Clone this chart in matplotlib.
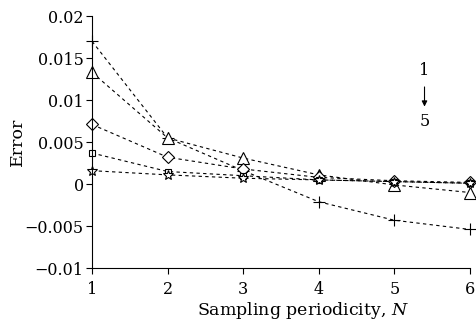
import matplotlib
matplotlib.use("Agg")
import matplotlib.pyplot as plt

plt.rcParams['font.family'] = ['DejaVu Serif']
plt.rcParams['mathtext.fontset'] = 'dejavuserif'

N = [1, 2, 3, 4, 5, 6]
err1 = [0.0170, 0.0055, 0.0016, -0.0021, -0.0043, -0.0054]
err2 = [0.0133, 0.0055, 0.0031, 0.0011, -0.0001, -0.0010]
err3 = [0.0071, 0.0032, 0.0018, 0.0008, 0.0004, 0.0002]
err4 = [0.0037, 0.0015, 0.0010, 0.0005, 0.0003, 0.0001]
err5 = [0.0016, 0.0011, 0.0007, 0.0005, 0.0003, 0.0001]
series = [err1, err2, err3, err4, err5]
markers = ['+', '^', 'D', 's', '*']
msizes = [9, 9, 6, 5, 7]
yticks = [-0.01, -0.005, 0, 0.005, 0.01, 0.015, 0.02]
yticklabels = ['\u22120.01', '\u22120.005', '0', '0.005', '0.01', '0.015', '0.02']

fig = plt.figure(figsize=(4.77, 3.23), dpi=100)
ax = fig.add_axes([0.193, 0.170, 0.792, 0.780])

for vals, m, ms in zip(series, markers, msizes):
    ax.plot(N, vals, linestyle=(0, (3, 3)), color='black', linewidth=0.8,
            marker=m, markersize=ms, markerfacecolor='white',
            markeredgecolor='black', markeredgewidth=0.8, clip_on=False)

ax.set_xlim(1, 6)
ax.set_ylim(-0.01, 0.02)
ax.set_xticks(N)
ax.set_yticks(yticks)
ax.set_yticklabels(yticklabels)
ax.spines['top'].set_visible(False)
ax.spines['right'].set_visible(False)
ax.tick_params(direction='out', length=4, width=0.8, labelsize=11.5)
ax.tick_params(axis='x', pad=5)
ax.tick_params(axis='y', pad=2)
ax.set_xlabel('Sampling periodicity, $N$', fontsize=12.5)
ax.xaxis.set_label_coords(0.558, -0.125)
ax.set_ylabel('Error', fontsize=12.5, labelpad=-1)

ax.annotate('', xy=(0.88, 0.63), xytext=(0.88, 0.73), xycoords='axes fraction',
            arrowprops=dict(arrowstyle='-|>', color='black', lw=0.8, mutation_scale=8))
ax.text(0.88, 0.75, '1', transform=ax.transAxes, ha='center', va='bottom', fontsize=11.5)
ax.text(0.88, 0.615, '5', transform=ax.transAxes, ha='center', va='top', fontsize=11.5)

fig.savefig('out.png', dpi=100)
